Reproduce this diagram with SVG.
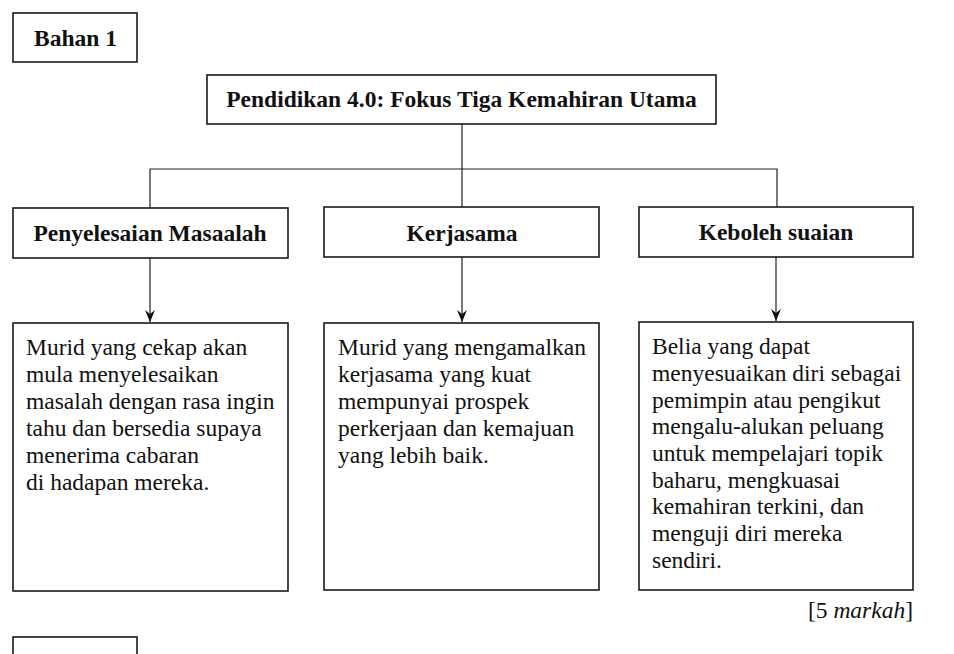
<svg xmlns="http://www.w3.org/2000/svg" width="954" height="654" viewBox="0 0 954 654">
<style>
.box{fill:#fff;stroke:#1a1a1a;stroke-width:1.6}
.t{font-family:"Liberation Serif","Times New Roman",serif;font-size:23.5px;fill:#111}
.b{font-weight:bold}
.c{text-anchor:middle}
.ln{fill:none;stroke:#222;stroke-width:1.2}
</style>
<defs>
<marker id="ah" markerWidth="12" markerHeight="10" refX="12" refY="5" orient="auto" markerUnits="userSpaceOnUse" viewBox="0 0 12 10">
<path d="M0,0 L12,5 L0,10 L4,5 Z" fill="#111"/>
</marker>
</defs>
<rect width="954" height="654" fill="#fff"/>
<g id="bahan1">
<rect class="box" x="13" y="13" width="124" height="49"/>
<text class="t b" x="34" y="46">Bahan 1</text>
</g>
<g id="connectors">
<line class="ln" x1="462" y1="124" x2="462" y2="207" stroke="#666"/>
<polyline class="ln" points="150,208 150,169 777,169 777,207"/>
<line class="ln" x1="150" y1="258" x2="150" y2="322" marker-end="url(#ah)"/>
<line class="ln" x1="462" y1="257" x2="462" y2="322" marker-end="url(#ah)"/>
<line class="ln" x1="776" y1="257" x2="776" y2="321" marker-end="url(#ah)"/>
</g>
<g id="title">
<rect class="box" x="207" y="75" width="509" height="49"/>
<text class="t b c" x="461.5" y="107">Pendidikan 4.0: Fokus Tiga Kemahiran Utama</text>
</g>
<g id="h-penyelesaian">
<rect class="box" x="13" y="208" width="275" height="50"/>
<text class="t b c" x="150" y="241">Penyelesaian Masaalah</text>
</g>
<g id="h-kerjasama">
<rect class="box" x="324" y="207" width="275" height="50"/>
<text class="t b c" x="462" y="241">Kerjasama</text>
</g>
<g id="h-keboleh">
<rect class="box" x="639" y="207" width="274" height="50"/>
<text class="t b c" x="776" y="240">Keboleh suaian</text>
</g>
<g id="d-penyelesaian">
<rect class="box" x="13" y="323" width="275" height="268"/>
<text class="t" x="26" y="355">Murid yang cekap akan</text>
<text class="t" x="26" y="382">mula menyelesaikan</text>
<text class="t" x="26" y="409">masalah dengan rasa ingin</text>
<text class="t" x="26" y="436">tahu dan bersedia supaya</text>
<text class="t" x="26" y="463">menerima cabaran</text>
<text class="t" x="26" y="490">di hadapan mereka.</text>
</g>
<g id="d-kerjasama">
<rect class="box" x="324" y="323" width="275" height="267"/>
<text class="t" x="338" y="355">Murid yang mengamalkan</text>
<text class="t" x="338" y="382">kerjasama yang kuat</text>
<text class="t" x="338" y="409">mempunyai prospek</text>
<text class="t" x="338" y="436">perkerjaan dan kemajuan</text>
<text class="t" x="338" y="463">yang lebih baik.</text>
</g>
<g id="d-keboleh">
<rect class="box" x="639" y="322" width="274" height="268"/>
<text class="t" x="652" y="354">Belia yang dapat</text>
<text class="t" x="652" y="381">menyesuaikan diri sebagai</text>
<text class="t" x="652" y="408">pemimpin atau pengikut</text>
<text class="t" x="652" y="434">mengalu-alukan peluang</text>
<text class="t" x="652" y="461">untuk mempelajari topik</text>
<text class="t" x="652" y="488">baharu, mengkuasai</text>
<text class="t" x="652" y="514">kemahiran terkini, dan</text>
<text class="t" x="652" y="541">menguji diri mereka</text>
<text class="t" x="652" y="568">sendiri.</text>
</g>
<g id="marks">
<text class="t" x="913" y="618" text-anchor="end">[5 <tspan font-style="italic">markah</tspan>]</text>
</g>
<g id="bottom-box">
<rect class="box" x="13" y="637" width="124" height="30"/>
</g>
</svg>
